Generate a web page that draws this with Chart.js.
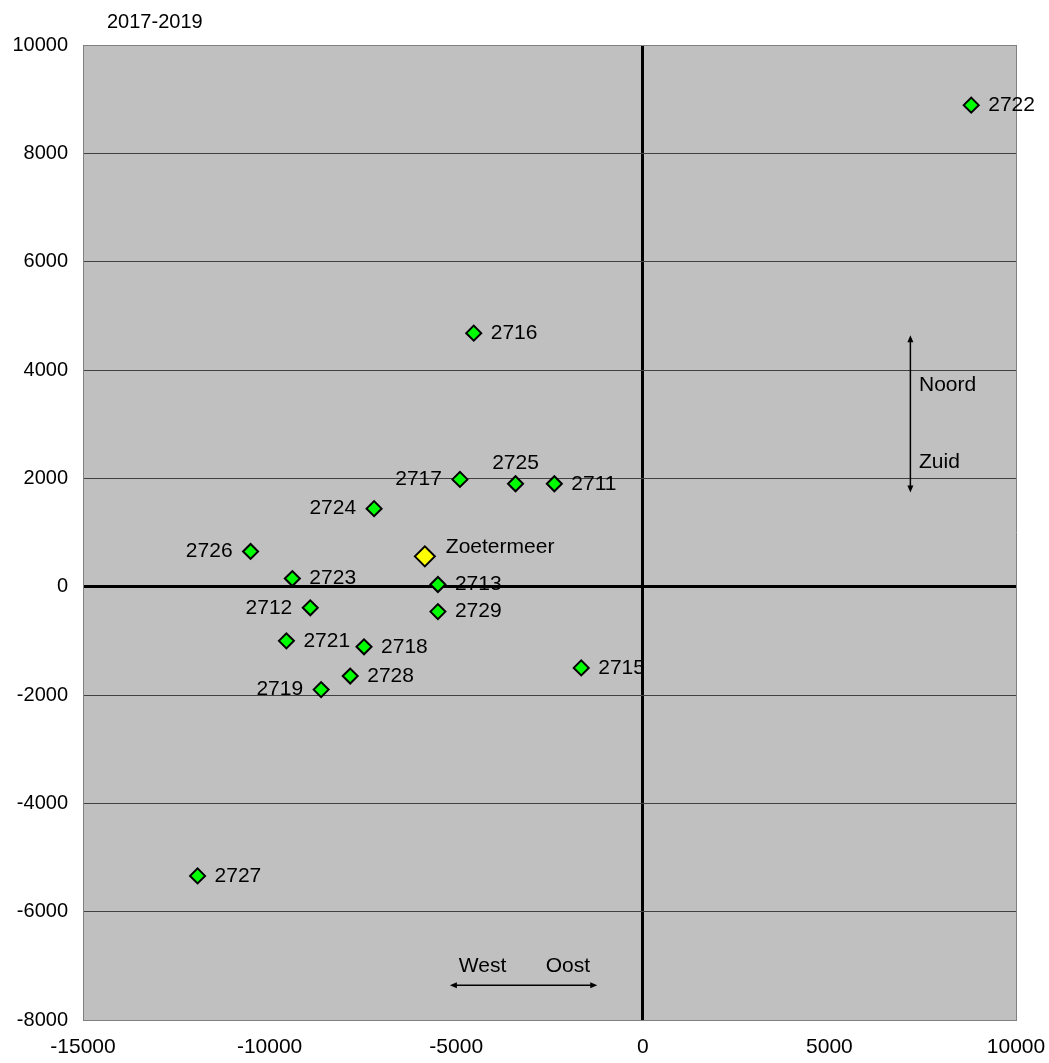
<!DOCTYPE html>
<html>
<head>
<meta charset="utf-8">
<script src="https://cdn.jsdelivr.net/npm/chart.js@4/dist/chart.umd.min.js"></script>
<style>
html,body{margin:0;padding:0;background:#fff;}
#wrap{width:1049px;height:1063px;}
</style>
</head>
<body>
<div id="wrap"><canvas id="c" width="1049" height="1063"></canvas></div>
<script>
const titleText = "2017-2019";
const names = ["2722","2716","2717","2725","2711","2724","2726","2723","2713","2712","2729","2721","2718","2715","2728","2719","2727"];
const xs = [8800,-4530,-4900,-3410,-2370,-7200,-10510,-9390,-5490,-8910,-5490,-9550,-7470,-1650,-7840,-8620,-11930];
const ys = [8890,4680,1980,1900,1900,1440,650,150,40,-390,-460,-1000,-1110,-1500,-1650,-1900,-5340];
const labelSide = ["right","right","left","above","right","left","left","right","right","left","right","right","right","right","right","left","right"];
const cityName = "Zoetermeer";
const cityX = [-5840];
const cityY = [560];
const xTicks = [-15000,-10000,-5000,0,5000,10000];
const yTicks = [-8000,-6000,-4000,-2000,0,2000,4000,6000,8000,10000];
// compass annotations (data coords)
const nsArrow = {x:7170, y1:4640, y2:1740};
const weArrow = {y:-7360, x1:-5170, x2:-1220};
const compassLabels = [
  {text:"Noord", x:7400, y:3720},
  {text:"Zuid", x:7400, y:2290},
  {text:"West", x:-4930, y:-7000},
  {text:"Oost", x:-2600, y:-7000}
];

const FONT = '"Liberation Sans", Arial, sans-serif';

const plugin = {
  id:'extras',
  afterDatasetsDraw(chart){
    const ctx = chart.ctx;
    const xs_ = chart.scales.x, ys_ = chart.scales.y;
    ctx.save();
    ctx.fillStyle = '#000';
    ctx.font = '21px ' + FONT;
    ctx.textBaseline = 'middle';
    names.forEach((n,i)=>{
      const px = xs_.getPixelForValue(xs[i]);
      const py = ys_.getPixelForValue(ys[i]);
      const s = labelSide[i];
      if (s==='right'){ ctx.textAlign='left'; ctx.fillText(n, px+17, py); }
      else if (s==='left'){ ctx.textAlign='right'; ctx.fillText(n, px-18, py); }
      else { ctx.textAlign='center'; ctx.fillText(n, px, py-21); }
    });
    // city
    const cx = xs_.getPixelForValue(cityX[0]), cy = ys_.getPixelForValue(cityY[0]);
    ctx.textAlign='left';
    ctx.fillText(cityName, cx+21, cy-9);
    // compass
    ctx.strokeStyle='#000'; ctx.lineWidth=1.5;
    const ax = xs_.getPixelForValue(nsArrow.x);
    const ay1 = ys_.getPixelForValue(nsArrow.y1), ay2 = ys_.getPixelForValue(nsArrow.y2);
    ctx.beginPath(); ctx.moveTo(ax, ay1+4); ctx.lineTo(ax, ay2-4); ctx.stroke();
    ctx.beginPath(); ctx.moveTo(ax, ay1); ctx.lineTo(ax-3, ay1+7); ctx.lineTo(ax+3, ay1+7); ctx.closePath(); ctx.fill();
    ctx.beginPath(); ctx.moveTo(ax, ay2); ctx.lineTo(ax-3, ay2-7); ctx.lineTo(ax+3, ay2-7); ctx.closePath(); ctx.fill();
    const by = ys_.getPixelForValue(weArrow.y);
    const bx1 = xs_.getPixelForValue(weArrow.x1), bx2 = xs_.getPixelForValue(weArrow.x2);
    ctx.beginPath(); ctx.moveTo(bx1+4, by); ctx.lineTo(bx2-4, by); ctx.stroke();
    ctx.beginPath(); ctx.moveTo(bx1, by); ctx.lineTo(bx1+7, by-3); ctx.lineTo(bx1+7, by+3); ctx.closePath(); ctx.fill();
    ctx.beginPath(); ctx.moveTo(bx2, by); ctx.lineTo(bx2-7, by-3); ctx.lineTo(bx2-7, by+3); ctx.closePath(); ctx.fill();
    ctx.textAlign='left';
    compassLabels.forEach(l=>{
      ctx.fillText(l.text, xs_.getPixelForValue(l.x), ys_.getPixelForValue(l.y));
    });
    // title
    ctx.font = '20px ' + FONT;
    ctx.textAlign='left';
    ctx.fillText(titleText, chart.chartArea.left + 24, 22);
    ctx.restore();
  },
  beforeDraw(chart){
    const {ctx, chartArea:a} = chart;
    ctx.save();
    ctx.fillStyle = '#c0c0c0';
    ctx.fillRect(a.left, a.top, a.right-a.left, a.bottom-a.top);
    ctx.restore();
  }
};

new Chart(document.getElementById('c'), {
  type:'scatter',
  data:{
    datasets:[
      {
        label:'gemeenten',
        data: xs.map((x,i)=>({x:x, y:ys[i]})),
        pointStyle:'rectRot',
        pointRadius:7.5,
        pointHoverRadius:7.5,
        backgroundColor:'#00ff00',
        borderColor:'#000',
        borderWidth:2
      },
      {
        label:cityName,
        data: cityX.map((x,i)=>({x:x, y:cityY[i]})),
        pointStyle:'rectRot',
        pointRadius:10,
        pointHoverRadius:10,
        backgroundColor:'#ffff00',
        borderColor:'#000',
        borderWidth:2
      }
    ]
  },
  options:{
    responsive:false,
    animation:false,
    devicePixelRatio:1,
    layout:{padding:{top:45,right:33,left:0,bottom:0}},
    plugins:{legend:{display:false}, tooltip:{enabled:false}, title:{display:false}},
    scales:{
      x:{
        type:'linear', min:-15000, max:10000,
        afterBuildTicks(s){ s.ticks = xTicks.map(v=>({value:v})); },
        afterFit(s){ s.height = 43; s.paddingLeft = 0; s.paddingRight = 0; },
        border:{display:true, color:'#808080', width:1},
        grid:{
          drawTicks:false,
          color:c=> c.tick.value===0 ? '#000' : ((c.tick.value===-15000||c.tick.value===10000)?'#808080':'rgba(0,0,0,0)'),
          lineWidth:c=> c.tick.value===0 ? 3 : 1
        },
        ticks:{color:'#000', font:{family:FONT, size:21}, padding:15, maxRotation:0, autoSkip:false, callback:v=>String(v)}
      },
      y:{
        type:'linear', min:-8000, max:10000,
        afterBuildTicks(s){ s.ticks = yTicks.map(v=>({value:v})); },
        afterFit(s){ s.width = 83; s.paddingTop = 0; s.paddingBottom = 0; },
        border:{display:true, color:'#808080', width:1},
        grid:{
          drawTicks:false,
          color:c=> c.tick.value===0 ? '#000' : ((c.tick.value===-8000||c.tick.value===10000)?'#808080':'#404040'),
          lineWidth:c=> c.tick.value===0 ? 3 : 1
        },
        ticks:{color:'#000', font:{family:FONT, size:20}, padding:15, autoSkip:false, callback:v=>String(v)}
      }
    }
  },
  plugins:[plugin]
});
</script>
</body>
</html>
